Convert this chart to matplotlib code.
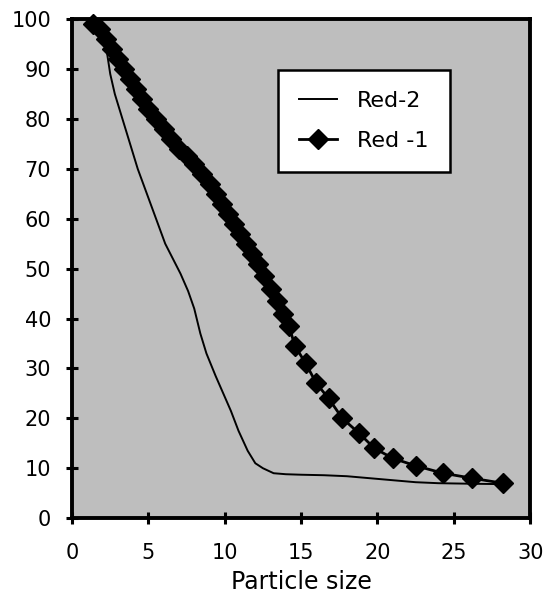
import matplotlib
matplotlib.use("Agg")
import matplotlib.pyplot as plt

# Red-1 (diamonds)
red1_x = [1.4, 1.8, 2.2, 2.6, 3.0, 3.4, 3.8, 4.2, 4.6, 5.0, 5.5, 6.0, 6.5, 7.0,
          7.5, 8.0, 8.5, 9.0, 9.4, 9.8, 10.2, 10.6, 11.0, 11.4, 11.8, 12.2, 12.6,
          13.0, 13.4, 13.8, 14.2, 14.6, 15.3, 16.0, 16.8, 17.7, 18.8, 19.8, 21.0,
          22.5, 24.3, 26.2, 28.2]
red1_y = [99, 98, 96, 94, 92, 90, 88, 86, 84, 82, 80, 78, 76, 74,
          72.5, 71, 69, 67, 65, 63, 61, 59, 57, 55, 53, 51, 48.5,
          46, 43.5, 41, 38.5, 34.5, 31, 27, 24, 20, 17, 14, 12,
          10.5, 9, 8, 7]

# Red-2 (thin line)
red2_x = [1.8, 2.1, 2.3, 2.5, 2.8, 3.2, 3.8, 4.3, 4.9, 5.5, 6.1, 6.6, 7.1, 7.6,
          8.0, 8.4, 8.8, 9.4, 9.9, 10.4, 10.9, 11.5, 12.0, 12.5, 13.2, 14.0, 15.0,
          16.5, 18.0, 19.5, 21.0, 22.5, 24.0, 26.0, 28.5]
red2_y = [100, 97, 93, 89, 85, 81, 75, 70, 65, 60, 55, 52, 49, 45.5,
          42, 37, 33, 28.5, 25, 21.5, 17.5, 13.5, 11, 10, 9, 8.8, 8.7,
          8.6, 8.4, 8.0, 7.6, 7.2, 7.0, 6.9, 6.8]

x_ticks = [0, 5, 10, 15, 20, 25, 30]
y_ticks = [0, 10, 20, 30, 40, 50, 60, 70, 80, 90, 100]

plt.rcParams["font.family"] = ["DejaVu Sans"]

fig = plt.figure(figsize=(5.46, 5.99), dpi=100)
ax = fig.add_axes([0.132, 0.135, 0.839, 0.833])
ax.set_facecolor("#bebebe")

ax.plot(red2_x, red2_y, color="black", linewidth=1.4, label="Red-2")
ax.plot(red1_x, red1_y, color="black", linewidth=2, marker="D",
        markersize=10, label="Red -1", clip_on=False)

ax.set_xlim(0, 30)
ax.set_ylim(0, 100)
ax.set_xticks(x_ticks)
ax.set_yticks(y_ticks)
ax.tick_params(labelsize=15, width=2.2, length=8, direction="inout")
ax.tick_params(axis="y", pad=11)
ax.tick_params(axis="x", pad=14)
for s in ax.spines.values():
    s.set_linewidth(2.8)
ax.set_xlabel("Particle size", fontsize=17, labelpad=5)

leg = ax.legend(loc="upper left", bbox_to_anchor=(0.45, 0.898), fontsize=16,
                frameon=True, fancybox=False, edgecolor="black",
                framealpha=1, borderpad=0.95, labelspacing=0.9,
                handlelength=1.7, handletextpad=0.9, borderaxespad=0)
leg.get_frame().set_linewidth(1.8)

fig.savefig("out.png", dpi=100)
